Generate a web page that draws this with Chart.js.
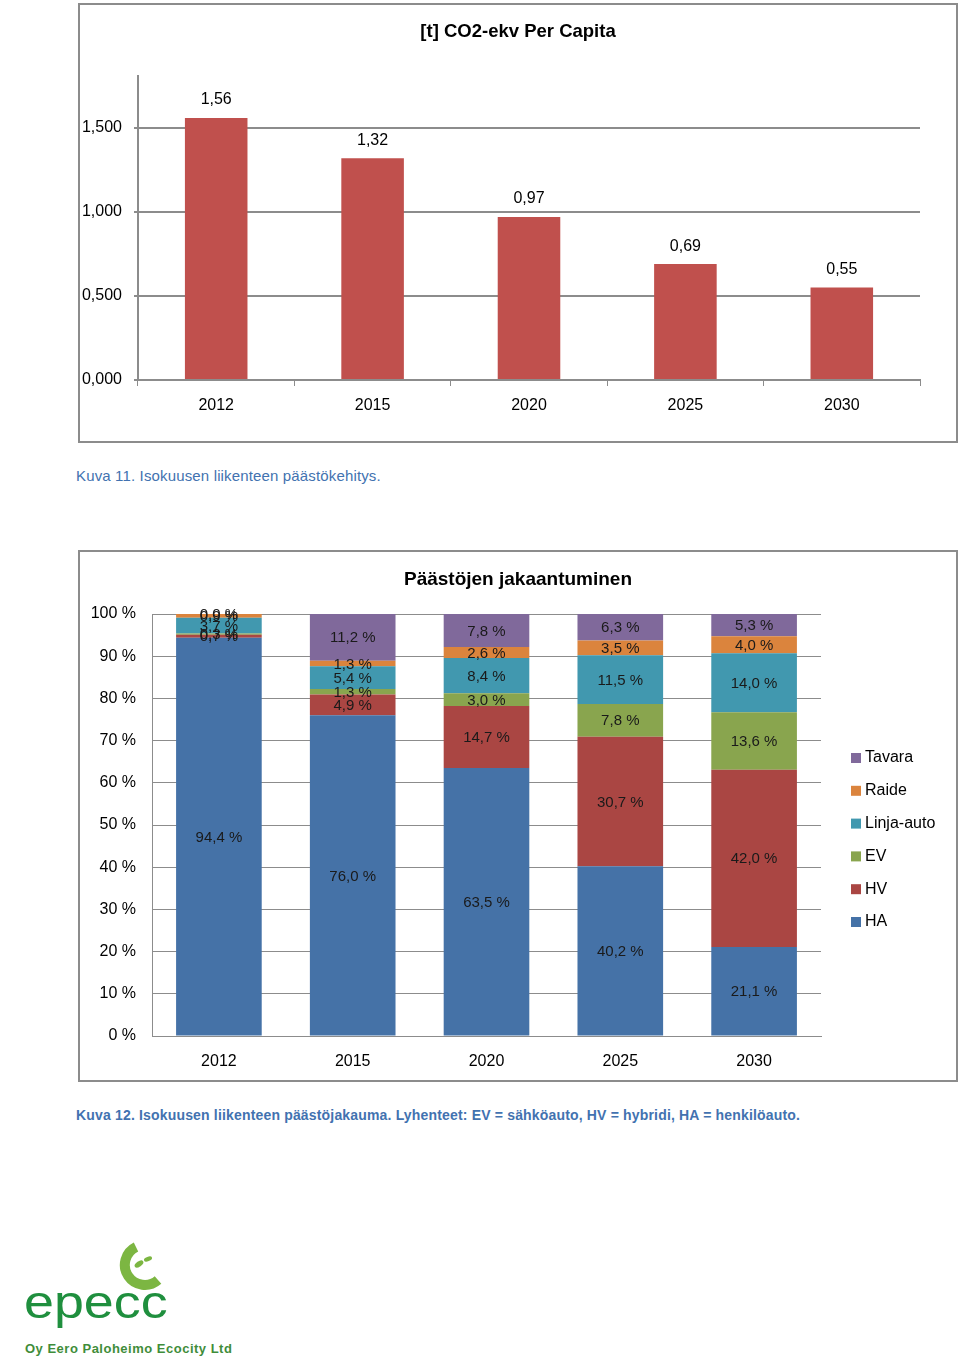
<!DOCTYPE html>
<html>
<head>
<meta charset="utf-8">
<script src="https://cdn.jsdelivr.net/npm/chart.js@4.4.0/dist/chart.umd.min.js"></script>
<style>
  body { margin: 0; background: #fff; font-family: "Liberation Sans", Arial, sans-serif; }
  .page { position: relative; width: 960px; height: 1360px; }
  .box { position: absolute; border: 2px solid #8c8c8c; background: #fff; }
  .box canvas { display: block; }
  .caption { position: absolute; left: 76px; color: #4272b0; font-size: 15px; white-space: nowrap; }
  .logo { position: absolute; left: 24px; top: 1236px; width: 240px; height: 124px; }
  .logo .word { position: absolute; left: 0; top: 43px; font-size: 46px; line-height: 46px; color: #1f8f3e; transform: scaleX(1.17); transform-origin: 0 0; }
  .logo .firm { position: absolute; left: 1px; top: 105px; font-size: 13px; font-weight: bold; color: #3f8d3a; letter-spacing: 0.5px; white-space: nowrap; }
</style>
</head>
<body>
<div class="page">
  <div class="box" style="left:78px; top:3px; width:876px; height:436px;">
    <canvas id="perCapita" width="876" height="436"></canvas>
  </div>
  <div class="caption" style="top:467px; letter-spacing:0.15px;">Kuva 11. Isokuusen liikenteen päästökehitys.</div>

  <div class="box" style="left:78px; top:550px; width:876px; height:528px;">
    <canvas id="jakauma" width="876" height="528"></canvas>
  </div>
  <div class="caption" style="top:1107px; font-weight:bold; font-size:14px; letter-spacing:0.17px;">Kuva 12. Isokuusen liikenteen päästöjakauma. Lyhenteet: EV = sähköauto, HV = hybridi, HA = henkilöauto.</div>

  <div class="logo">
    <svg width="240" height="70" style="position:absolute;left:0;top:0">
      <path d="M 112 11 A 20 20 0 1 0 134 44" fill="none" stroke="#7cb642" stroke-width="10"/>
      <ellipse cx="115" cy="28" rx="5" ry="2.6" transform="rotate(-35 115 28)" fill="#7cb642"/>
      <ellipse cx="124" cy="23" rx="4.2" ry="2.2" transform="rotate(-20 124 23)" fill="#7cb642"/>
    </svg>
    <div class="word">epecc</div>
    <div class="firm">Oy Eero Paloheimo Ecocity Ltd</div>
  </div>
</div>

<script>
const years = ["2012", "2015", "2020", "2025", "2030"];

// [t] CO2-ekv per capita
const perCapita = [1.56, 1.32, 0.97, 0.69, 0.55];

// päästöjen jakaantuminen, %
const seriesNames = ["HA", "HV", "EV", "Linja-auto", "Raide", "Tavara"];
const ha = [94.4, 76.0, 63.5, 40.2, 21.1];
const hv = [0.7, 4.9, 14.7, 30.7, 42.0];
const ev = [0.3, 1.3, 3.0, 7.8, 13.6];
const linja = [3.7, 5.4, 8.4, 11.5, 14.0];
const raide = [0.9, 1.3, 2.6, 3.5, 4.0];
const tavara = [0.0, 11.2, 7.8, 6.3, 5.3];

const pctTicks = [0, 10, 20, 30, 40, 50, 60, 70, 80, 90, 100];

const FONT = "'Liberation Sans', Arial, sans-serif";
const GRID = "#8c8c8c";
const fi = (v, d) => v.toFixed(d).replace(".", ",");

function titlePlugin(text, y, size) {
  return {
    id: "ownTitle",
    afterDraw(chart) {
      const ctx = chart.ctx;
      ctx.save();
      ctx.font = "bold " + size + "px " + FONT;
      ctx.fillStyle = "#000";
      ctx.textAlign = "center";
      ctx.textBaseline = "middle";
      ctx.fillText(text, chart.width / 2, y);
      ctx.restore();
    }
  };
}

// pylväiden arvot yläpuolelle
const topLabels = {
  id: "topLabels",
  afterDatasetsDraw(chart) {
    const ctx = chart.ctx;
    const meta = chart.getDatasetMeta(0);
    ctx.save();
    ctx.font = "16px " + FONT;
    ctx.fillStyle = "#000";
    ctx.textAlign = "center";
    ctx.textBaseline = "middle";
    meta.data.forEach((bar, i) => {
      ctx.fillText(fi(perCapita[i], 2), bar.x, bar.y - 18);
    });
    ctx.restore();
  }
};

new Chart(document.getElementById("perCapita"), {
  type: "bar",
  data: {
    labels: years,
    datasets: [{
      data: perCapita,
      backgroundColor: "#c0504d",
      barPercentage: 0.4,
      categoryPercentage: 1
    }]
  },
  options: {
    responsive: false,
    animation: false,
    layout: { padding: { top: 71, right: 36, left: 0, bottom: 0 } },
    plugins: { legend: { display: false }, tooltip: { enabled: false } },
    scales: {
      x: {
        grid: { drawOnChartArea: false, drawTicks: true, tickLength: 6, color: GRID },
        border: { color: GRID, width: 2 },
        ticks: { color: "#000", font: { family: FONT, size: 16 }, padding: 10 },
        afterFit(s) { s.height = 61; }
      },
      y: {
        min: 0,
        max: 1.81,
        grid: { color: GRID, lineWidth: 2, tickLength: 4 },
        border: { color: GRID, width: 2 },
        ticks: {
          stepSize: 0.5,
          includeBounds: false,
          color: "#000",
          font: { family: FONT, size: 16 },
          padding: 12,
          callback: v => fi(v, 3)
        },
        afterFit(s) { s.width = 58; }
      }
    }
  },
  plugins: [topLabels, titlePlugin("[t] CO2-ekv Per Capita", 27, 18.5)]
});

const colors = ["#4572a7", "#aa4643", "#89a54e", "#4198af", "#db843d", "#80699b"];
const values = [ha, hv, ev, linja, raide, tavara];

const stackLabels = {
  id: "stackLabels",
  afterDatasetsDraw(chart) {
    const ctx = chart.ctx;
    ctx.save();
    ctx.font = "15px " + FONT;
    ctx.fillStyle = "#1a1a1a";
    ctx.textAlign = "center";
    ctx.textBaseline = "middle";
    chart.data.datasets.forEach((ds, di) => {
      chart.getDatasetMeta(di).data.forEach((bar, i) => {
        const v = ds.data[i];
        ctx.fillText(fi(v, 1) + " %", bar.x, (bar.y + bar.base) / 2 + 1);
      });
    });
    ctx.restore();
  }
};

const sideLegend = {
  id: "sideLegend",
  afterDraw(chart) {
    const ctx = chart.ctx;
    const dsets = chart.data.datasets;
    ctx.save();
    ctx.font = "16px " + FONT;
    ctx.textBaseline = "middle";
    ctx.textAlign = "left";
    for (let k = 0; k < dsets.length; k++) {
      const ds = dsets[dsets.length - 1 - k];
      const y = 206 + k * 32.8;
      ctx.fillStyle = ds.backgroundColor;
      ctx.fillRect(771, y - 5, 10, 10);
      ctx.fillStyle = "#000";
      ctx.fillText(ds.label, 785, y);
    }
    ctx.restore();
  }
};

new Chart(document.getElementById("jakauma"), {
  type: "bar",
  data: {
    labels: years,
    datasets: seriesNames.map((name, i) => ({
      label: name,
      data: values[i],
      backgroundColor: colors[i],
      barPercentage: 0.64,
      categoryPercentage: 1
    }))
  },
  options: {
    responsive: false,
    animation: false,
    layout: { padding: { top: 62, right: 135, left: 0, bottom: 0 } },
    plugins: { legend: { display: false }, tooltip: { enabled: false } },
    scales: {
      x: {
        stacked: true,
        grid: { display: false },
        border: { color: GRID, width: 1 },
        ticks: { color: "#000", font: { family: FONT, size: 16 }, padding: 8 },
        afterFit(s) { s.height = 44; }
      },
      y: {
        stacked: true,
        min: 0,
        max: 100,
        afterBuildTicks(s) { s.ticks = pctTicks.map(v => ({ value: v })); },
        grid: { color: GRID, lineWidth: 1, drawTicks: false },
        border: { color: GRID, width: 1 },
        ticks: {
          color: "#000",
          font: { family: FONT, size: 16 },
          padding: 16,
          callback: v => v + " %"
        },
        afterFit(s) { s.width = 72; }
      }
    }
  },
  plugins: [stackLabels, sideLegend, titlePlugin("Päästöjen jakaantuminen", 28, 19)]
});
</script>
</body>
</html>
